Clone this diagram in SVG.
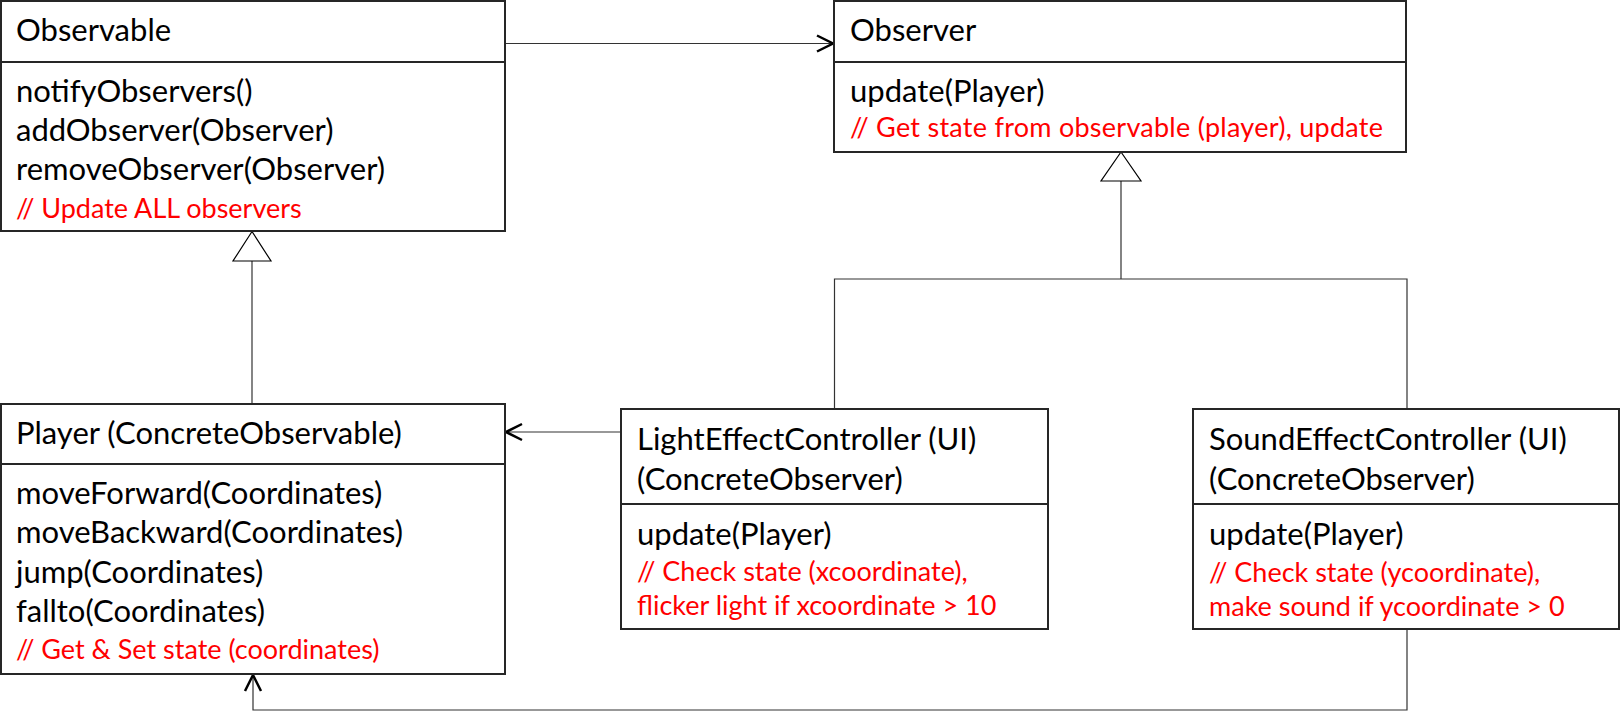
<svg xmlns="http://www.w3.org/2000/svg" width="1621" height="712" viewBox="0 0 1621 712">
<style>
.box{fill:#fff;stroke:#262626;stroke-width:2}
.div{stroke:#262626;stroke-width:2}
.t{font-family:Lato,"Liberation Sans",sans-serif;font-size:31px;fill:#000}
.c{font-family:Lato,"Liberation Sans",sans-serif;font-size:27px;fill:#ff0000}
.ln{fill:none;stroke:#333;stroke-width:1.2}
.hd{fill:none;stroke:#000;stroke-width:2.5}
.tri{fill:#fff;stroke:#000;stroke-width:1.2}
</style>
<rect width="1621" height="712" fill="#fff"/>
<g id="connectors">
<line class="ln" x1="505" y1="43.5" x2="832" y2="43.5"/>
<path class="hd" d="M817,35.5 L833,43.5 L817,51.5"/>
<line class="ln" x1="252" y1="261" x2="252" y2="404"/>
<path class="tri" d="M252,231.5 L271,261 L233,261 Z"/>
<path class="ln" d="M1121,181 V279 M834.5,409 V279 H1407 V409"/>
<path class="tri" d="M1121,152 L1141,181 L1101,181 Z"/>
<line class="ln" x1="621" y1="432" x2="507" y2="432"/>
<path class="hd" d="M522,424 L506,432 L522,440"/>
<path class="ln" d="M1407,629 V710 H253 V676"/>
<path class="hd" d="M245,691 L253,675 L261,691"/>
</g>
<g id="observable">
<rect class="box" x="1" y="1" width="504" height="230"/>
<line class="div" x1="1" y1="62" x2="505" y2="62"/>
<text class="t" x="16" y="41">Observable</text>
<text class="t" x="16" y="102">notifyObservers()</text>
<text class="t" x="16" y="141">addObserver(Observer)</text>
<text class="t" x="16" y="180">removeObserver(Observer)</text>
<text class="c" x="16" y="218">// Update ALL observers</text>
</g>
<g id="observer">
<rect class="box" x="834" y="1" width="572" height="151"/>
<line class="div" x1="834" y1="62" x2="1406" y2="62"/>
<text class="t" x="850" y="41">Observer</text>
<text class="t" x="850" y="102">update(Player)</text>
<text class="c" x="850" y="137" textLength="533" lengthAdjust="spacing">// Get state from observable (player), update</text>
</g>
<g id="player">
<rect class="box" x="1" y="404" width="504" height="270"/>
<line class="div" x1="1" y1="464" x2="505" y2="464"/>
<text class="t" x="16" y="444">Player (ConcreteObservable)</text>
<text class="t" x="16" y="504">moveForward(Coordinates)</text>
<text class="t" x="16" y="543">moveBackward(Coordinates)</text>
<text class="t" x="16" y="583">jump(Coordinates)</text>
<text class="t" x="16" y="622">fallto(Coordinates)</text>
<text class="c" x="16" y="659">// Get &amp; Set state (coordinates)</text>
</g>
<g id="light">
<rect class="box" x="621" y="409" width="427" height="220"/>
<line class="div" x1="621" y1="504" x2="1048" y2="504"/>
<text class="t" x="637" y="450">LightEffectController (UI)</text>
<text class="t" x="637" y="490">(ConcreteObserver)</text>
<text class="t" x="637" y="545">update(Player)</text>
<text class="c" x="637" y="581">// Check state (xcoordinate),</text>
<text class="c" x="637" y="615">flicker light if xcoordinate &gt; 10</text>
</g>
<g id="sound">
<rect class="box" x="1193" y="409" width="426" height="220"/>
<line class="div" x1="1193" y1="504" x2="1619" y2="504"/>
<text class="t" x="1209" y="450">SoundEffectController (UI)</text>
<text class="t" x="1209" y="490">(ConcreteObserver)</text>
<text class="t" x="1209" y="545">update(Player)</text>
<text class="c" x="1209" y="582">// Check state (ycoordinate),</text>
<text class="c" x="1209" y="616">make sound if ycoordinate &gt; 0</text>
</g>
</svg>
